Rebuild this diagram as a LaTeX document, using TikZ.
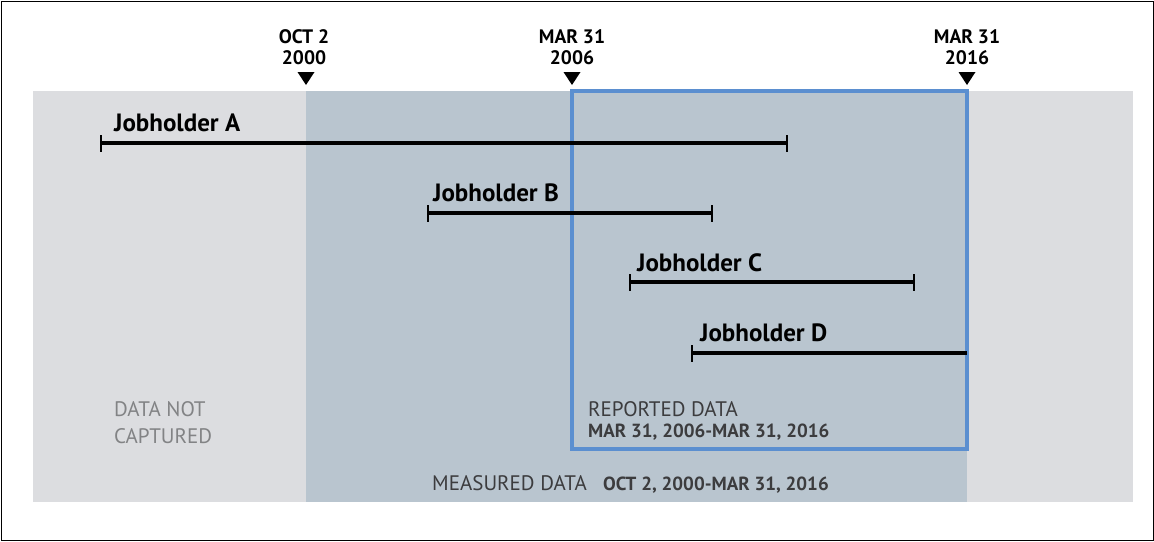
\documentclass[tikz,border=0pt]{standalone}
\usepackage{fontspec}
\setmainfont{PT Sans}
\definecolor{lightband}{HTML}{DCDDE0}
\definecolor{midband}{HTML}{B9C5CF}
\definecolor{blueframe}{HTML}{5B8FD0}
\definecolor{greytext}{HTML}{828385}
\definecolor{darktext}{HTML}{3C3C3E}
\begin{document}
\begin{tikzpicture}[x=1pt,y=-1pt,
  datelbl/.style={font=\fontsize{19.5}{21}\selectfont\bfseries, align=center, inner sep=0pt},
  joblbl/.style={font=\fontsize{25}{27}\selectfont\bfseries, anchor=base west, inner sep=0pt},
  bartick/.style={line width=2.5pt},
  barline/.style={line width=4pt},
  tri/.style={fill=black},
  areatxt/.style={font=\fontsize{21}{23}\selectfont, anchor=base west, inner sep=0pt},
  areabold/.style={font=\fontsize{19}{21}\selectfont\bfseries, anchor=base west, inner sep=0pt}]
\useasboundingbox (0,0) rectangle (1154,541);
\draw[line width=1pt] (1,1) rectangle (1153,540);
% bands
\fill[lightband] (33,91) rectangle (1133,502);
\fill[midband] (306,91) rectangle (967,502);
\draw[blueframe, line width=3.5pt] (572,91) rectangle (967,449);
% date markers
\foreach \x in {306,572,967}{
  \fill[tri] (\x-8.5,72) -- (\x+8.5,72) -- (\x,85) -- cycle;
}
\node[datelbl] (d1) at (304,47) {OCT 2\\2000};
\node[datelbl] (d2) at (572,47) {MAR 31\\2006};
\node[datelbl] (d3) at (967,47) {MAR 31\\2016};
% Jobholders
\coordinate (a1) at (101,143); \coordinate (a2) at (787,143);
\coordinate (b1) at (428,213); \coordinate (b2) at (712,213);
\coordinate (c1) at (630,282); \coordinate (c2) at (914,282);
\coordinate (e1) at (692,353); \coordinate (e2) at (967,353);
\draw[barline] (a1) -- (a2);
\draw[barline] (b1) -- (b2);
\draw[barline] (c1) -- (c2);
\draw[barline] (e1) -- (e2);
\foreach \p in {a1,a2,b1,b2,c1,c2,e1}{
  \draw[bartick] ([yshift=-8.5pt]\p) -- ([yshift=8.5pt]\p);
}
\node[joblbl] (ja) at (114,131) {Jobholder A};
\node[joblbl] (jb) at (433,201) {Jobholder B};
\node[joblbl] (jc) at (637,271) {Jobholder C};
\node[joblbl] (jd) at (700,341) {Jobholder D};
% area labels
\node[areatxt, text=greytext] (nc1) at (114,416) {DATA NOT};
\node[areatxt, text=greytext] (nc2) at (114,443) {CAPTURED};
\node[areatxt, text=darktext] (rp1) at (588,416) {REPORTED DATA};
\node[areabold, text=darktext] (rp2) at (588,437) {MAR 31, 2006-MAR 31, 2016};
\node[areatxt, text=darktext] (ms1) at (432,490) {MEASURED DATA};
\node[areabold, text=darktext] (ms2) at (603,490) {OCT 2, 2000-MAR 31, 2016};
\end{tikzpicture}
\end{document}
